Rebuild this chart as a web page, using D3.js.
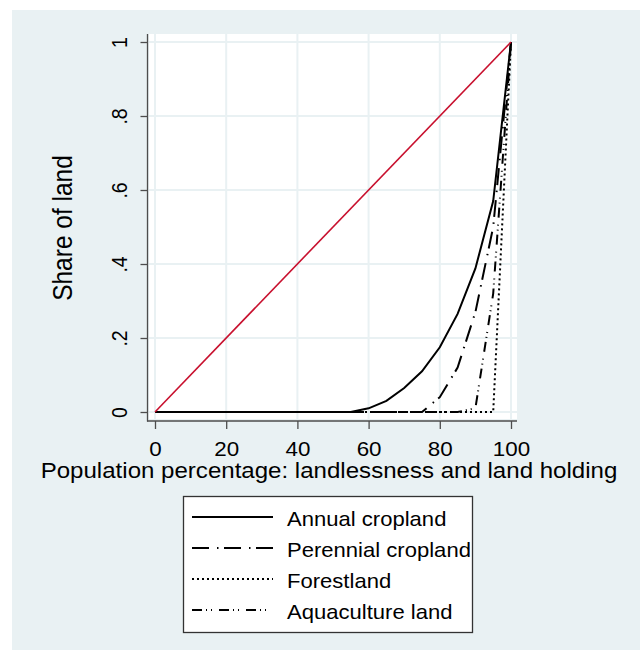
<!DOCTYPE html>
<html>
<head>
<meta charset="utf-8">
<script src="https://cdn.jsdelivr.net/npm/d3@7"></script>
<style>
  body { margin: 0; background: #fff; }
  text { font-family: "Liberation Sans", Arial, sans-serif; fill: #000; }
</style>
</head>
<body>
<div id="chart"></div>
<script>
// population share (x) and cumulative land shares per land type
var pop = [0, 5, 10, 15, 20, 25, 30, 35, 40, 45, 50, 55, 60, 65, 70, 75, 80, 85, 90, 95, 100];
var annual    = [0, 0, 0, 0, 0, 0, 0, 0, 0, 0, 0, 0, 0.01, 0.03, 0.065, 0.11, 0.175, 0.265, 0.388, 0.57, 1];
var perennial = [0, 0, 0, 0, 0, 0, 0, 0, 0, 0, 0, 0, 0, 0, 0, 0, 0.04, 0.12, 0.27, 0.5, 1];
var forest    = [0, 0, 0, 0, 0, 0, 0, 0, 0, 0, 0, 0, 0, 0, 0, 0, 0, 0, 0, 0, 1];
var aqua      = [0, 0, 0, 0, 0, 0, 0, 0, 0, 0, 0, 0, 0, 0, 0, 0, 0, 0, 0.01, 0.32, 1];
var equality  = [0, 1];
var equalityX = [0, 100];

var seriesNames = ["Annual cropland", "Perennial cropland", "Forestland", "Aquaculture land"];
var xTicks = [0, 20, 40, 60, 80, 100];
var yTicks = [0, 0.2, 0.4, 0.6, 0.8, 1];
var yTickLabels = ["0", ".2", ".4", ".6", ".8", "1"];

var width = 640, height = 650;
var stretch = 1.12; // glyphs in the picture are a bit wide
var dashes = ["none", "17,8,1.5,5.5", "2,3", "10,4,1,4,1,7"];

var svg = d3.select("#chart").append("svg")
    .attr("width", width)
    .attr("height", height);

svg.append("rect")
    .attr("x", 12).attr("y", 10)
    .attr("width", width - 12).attr("height", height - 10)
    .attr("fill", "#e9f1f3");

// plot region
var pl = 149, pr = 517, pt = 34, pb = 419;
svg.append("rect")
    .attr("x", pl).attr("y", pt)
    .attr("width", pr - pl).attr("height", pb - pt)
    .attr("fill", "#fff");

var x = d3.scaleLinear().domain([0, 100]).range([155, 511]);
var y = d3.scaleLinear().domain([0, 1]).range([412, 42]);

// grid
svg.append("g").selectAll("line").data(xTicks).enter().append("line")
    .attr("x1", d => x(d)).attr("x2", d => x(d))
    .attr("y1", pt).attr("y2", pb)
    .attr("stroke", "#e9f1f3").attr("stroke-width", 2);
svg.append("g").selectAll("line").data(yTicks).enter().append("line")
    .attr("y1", d => y(d)).attr("y2", d => y(d))
    .attr("x1", pl).attr("x2", pr)
    .attr("stroke", "#e9f1f3").attr("stroke-width", 2);

// curves
var line = d3.line().x(d => x(d[0])).y(d => y(d[1]));
var series = [annual, perennial, forest, aqua];
series.forEach(function(vals, i){
  svg.append("path")
    .datum(pop.map((p, j) => [p, vals[j]]))
    .attr("d", line)
    .attr("fill", "none")
    .attr("stroke", "#000")
    .attr("stroke-width", 2)
    .attr("stroke-dasharray", dashes[i]);
});

svg.append("path")
    .datum(equalityX.map((p, j) => [p, equality[j]]))
    .attr("d", line)
    .attr("fill", "none")
    .attr("stroke", "#c8102e")
    .attr("stroke-width", 1.6);

// axes
var axisColor = "#4d4d4d";
var yAxis = svg.append("g")
    .attr("transform", "translate(147.5,0)")
    .call(d3.axisLeft(y).tickValues(yTicks).tickSize(7).tickSizeOuter(0)
      .tickFormat((d, i) => yTickLabels[i]));
yAxis.select(".domain").remove();
yAxis.selectAll("line").attr("stroke", axisColor).attr("stroke-width", 1.3);
yAxis.selectAll("text")
    .attr("x", null).attr("dy", null)
    .attr("text-anchor", "middle")
    .style("font-size", "19.5px")
    .style("font-family", "Liberation Sans, Arial, sans-serif")
    .attr("fill", "#000")
    .attr("transform", "translate(-21,0) scale(" + stretch + ",1) rotate(-90)");

var xAxis = svg.append("g")
    .attr("transform", "translate(0,421)")
    .call(d3.axisBottom(x).tickValues(xTicks).tickSize(8).tickSizeOuter(0));
xAxis.select(".domain").remove();
xAxis.selectAll("line").attr("stroke", axisColor).attr("stroke-width", 1.3);
xAxis.selectAll("text")
    .attr("y", null).attr("dy", null)
    .attr("text-anchor", "middle")
    .style("font-size", "20px")
    .style("font-family", "Liberation Sans, Arial, sans-serif")
    .attr("fill", "#000")
    .attr("transform", "translate(0,34.5) scale(" + stretch + ",1)");

svg.append("line")
    .attr("x1", 147.5).attr("x2", 147.5).attr("y1", pt).attr("y2", 421.5)
    .attr("stroke", axisColor).attr("stroke-width", 1.3);
svg.append("line")
    .attr("x1", 147).attr("x2", pr).attr("y1", 421).attr("y2", 421)
    .attr("stroke", axisColor).attr("stroke-width", 1.3);

// titles
svg.append("text")
    .attr("text-anchor", "middle")
    .style("font-size", "21.5px")
    .attr("transform", "translate(329,478) scale(" + stretch + ",1)")
    .text("Population percentage: landlessness and land holding");

svg.append("text")
    .attr("text-anchor", "middle")
    .style("font-size", "24.5px")
    .attr("transform", "translate(72,228) scale(" + stretch + ",1) rotate(-90)")
    .text("Share of land");

// legend
var lg = svg.append("g");
lg.append("rect")
    .attr("x", 183.5).attr("y", 496.5)
    .attr("width", 289).attr("height", 136)
    .attr("fill", "#fff")
    .attr("stroke", "#333").attr("stroke-width", 1.3);

var rows = lg.selectAll("g.row").data(seriesNames).enter().append("g")
    .attr("class", "row")
    .attr("transform", (d, i) => "translate(0," + (519 + i * 31) + ")");
rows.append("line")
    .attr("x1", 192).attr("x2", 273)
    .attr("y1", -2).attr("y2", -2)
    .attr("stroke", "#000").attr("stroke-width", 2)
    .attr("stroke-dasharray", (d, i) => dashes[i]);
rows.append("text")
    .style("font-size", "19.7px")
    .attr("transform", "translate(287,7) scale(" + stretch + ",1)")
    .text(d => d);
</script>
</body>
</html>
